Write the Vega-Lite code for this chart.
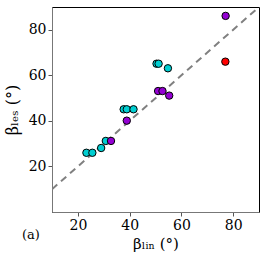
{
  "$schema": "https://vega.github.io/schema/vega-lite/v6.json",
  "autosize": "none",
  "width": 207,
  "height": 205,
  "padding": {"left": 52, "top": 7, "right": 7, "bottom": 49},
  "background": "white",
  "config": {
    "view": {"stroke": "black", "strokeWidth": 1},
    "axis": {"grid": false, "labelFont": "DejaVu Serif", "labelFontSize": 14, "labelColor": "black", "titleFont": "DejaVu Serif", "titleFontSize": 15, "titleFontWeight": "normal", "titleColor": "black", "tickColor": "#555", "tickSize": 4, "domainColor": "#777", "labelPadding": 2}
  },
  "title": {"text": "(a)", "orient": "bottom", "anchor": "start", "frame": "group", "font": "DejaVu Serif", "fontSize": 13, "fontWeight": "normal", "color": "black", "dx": -30, "offset": -22, "baseline": "top"},
  "layer": [
    {
      "data": {"values": [{"a": 10, "b": 10}, {"a": 90, "b": 90}]},
      "mark": {"type": "line", "color": "#808080", "strokeWidth": 2, "strokeDash": [7, 5], "clip": true},
      "encoding": {
        "x": {"field": "a", "type": "quantitative"},
        "y": {"field": "b", "type": "quantitative"}
      }
    },
    {
      "data": {"values": [
        {"lin": 77.1, "les": 86.1, "group": "p"},
        {"lin": 77.0, "les": 66.0, "group": "r"},
        {"lin": 50.4, "les": 65.1, "group": "c"},
        {"lin": 51.2, "les": 65.1, "group": "c"},
        {"lin": 54.8, "les": 63.1, "group": "c"},
        {"lin": 51.0, "les": 53.1, "group": "p"},
        {"lin": 52.7, "les": 53.1, "group": "p"},
        {"lin": 55.3, "les": 51.1, "group": "p"},
        {"lin": 37.7, "les": 45.1, "group": "c"},
        {"lin": 38.9, "les": 45.1, "group": "c"},
        {"lin": 41.5, "les": 45.1, "group": "c"},
        {"lin": 38.9, "les": 40.1, "group": "p"},
        {"lin": 30.8, "les": 31.2, "group": "c"},
        {"lin": 32.8, "les": 31.2, "group": "p"},
        {"lin": 29.0, "les": 28.1, "group": "c"},
        {"lin": 23.3, "les": 26.0, "group": "c"},
        {"lin": 25.6, "les": 26.0, "group": "c"}
      ]},
      "mark": {"type": "circle", "size": 55, "opacity": 1, "stroke": "black", "strokeWidth": 1},
      "encoding": {
        "x": {"field": "lin", "type": "quantitative", "scale": {"domain": [10, 90], "nice": false}, "axis": {"values": [20, 40, 60, 80], "title": "βₗᵢₙ (°)", "titlePadding": 4}},
        "y": {"field": "les", "type": "quantitative", "scale": {"domain": [10, 90], "nice": false}, "axis": {"values": [20, 40, 60, 80], "title": "βₗₑₛ (°)", "titlePadding": 8, "titleFontSize": 16}},
        "color": {"field": "group", "type": "nominal", "legend": null, "scale": {"domain": ["c", "p", "r"], "range": ["#00CED1", "#9400D3", "#FF0000"]}}
      }
    }
  ]
}
